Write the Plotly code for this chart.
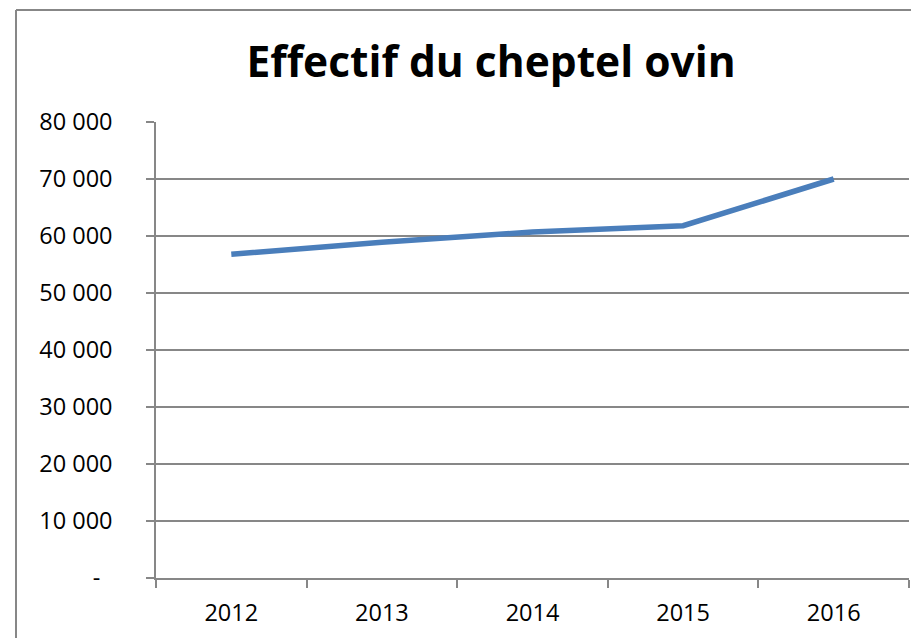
import plotly.graph_objects as go

years = ["2012", "2013", "2014", "2015", "2016"]
effectif = [56800, 58900, 60700, 61800, 70000]
y_tickvals = [0, 10000, 20000, 30000, 40000, 50000, 60000, 70000, 80000]
y_ticktext = ["-\u00a0\u00a0", "10 000", "20 000", "30 000", "40 000", "50 000", "60 000", "70 000", "80 000"]

OFF = 8  # browser body margin
W, H = 919 - OFF, 638 - OFF
L, T = 156 - OFF, 122 - OFF
R = W - (909 - OFF)
B = H - (578 - OFF)
PW, PH = W - L - R, H - T - B


def px(xp):
    return (xp - OFF - L) / PW


def py(yp):
    return (H - B - (yp - OFF)) / PH


fig = go.Figure()
fig.add_trace(go.Scatter(
    x=years, y=effectif, mode="lines",
    line=dict(color="#4A7EBB", width=5.5),
    hoverinfo="skip", showlegend=False,
))

grid = "#878787"
fig.update_layout(
    width=W, height=H,
    margin=dict(l=L, r=R, t=T, b=B, pad=0),
    paper_bgcolor="white", plot_bgcolor="white",
    title=dict(
        text="<b>Effectif du cheptel ovin</b>",
        font=dict(family="Open Sans", size=42.5, color="black"),
        x=px(491), xref="paper", xanchor="center",
        y=1 - (62 - OFF) / H, yref="container", yanchor="middle",
    ),
    xaxis=dict(
        type="category", range=[-0.5, 4.5],
        tickson="boundaries", ticks="outside", ticklen=8, tickwidth=1.5, tickcolor=grid,
        showline=True, linecolor=grid, linewidth=1.5,
        showgrid=False, zeroline=False,
        tickfont=dict(family="Open Sans", size=23.5, color="black"),
        ticklabelstandoff=13,
    ),
    yaxis=dict(
        range=[0, 80000], tickvals=y_tickvals, ticktext=y_ticktext,
        ticks="outside", ticklen=8, tickwidth=1.5, tickcolor=grid,
        showline=True, linecolor=grid, linewidth=1.5,
        showgrid=True, gridcolor=grid, gridwidth=1.5, zeroline=False,
        tickfont=dict(family="Open Sans", size=23.5, color="black"),
        ticklabelstandoff=29,
    ),
)

# chart-area frame (left and top edges visible)
fig.add_shape(type="line", xref="paper", yref="paper",
              x0=px(16), x1=px(16), y0=py(660), y1=py(10),
              line=dict(color=grid, width=2))
fig.add_shape(type="line", xref="paper", yref="paper",
              x0=px(16), x1=px(914), y0=py(10), y1=py(10),
              line=dict(color=grid, width=2))
# extension of the y axis line below the x axis (left boundary tick)
fig.add_shape(type="line", xref="paper", yref="paper",
              x0=0, x1=0, y0=0, y1=py(585),
              line=dict(color=grid, width=1.5))

fig.write_html("out.html")
